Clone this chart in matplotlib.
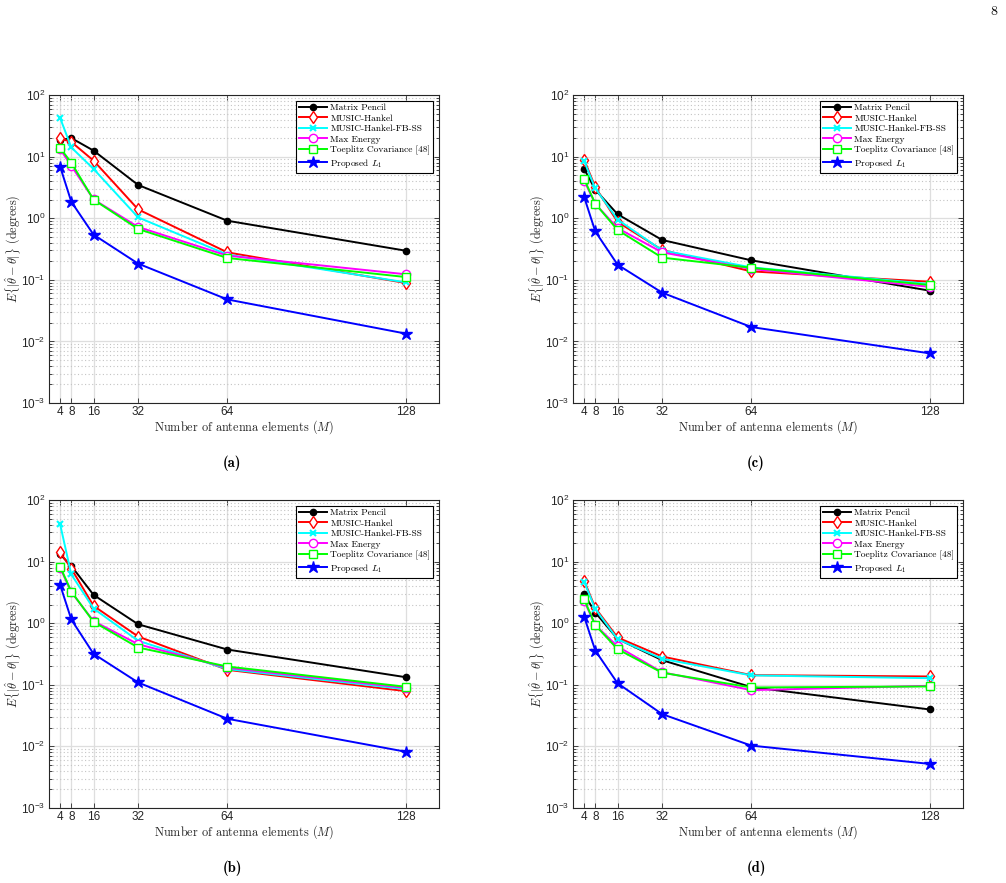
import numpy as np
import matplotlib
matplotlib.use("Agg")
from matplotlib import pyplot as plt
from matplotlib.font_manager import FontProperties
from matplotlib.ticker import LogLocator, NullFormatter

plt.rcParams['mathtext.fontset'] = 'custom'
plt.rcParams['mathtext.rm'] = 'Liberation Sans'
plt.rcParams['mathtext.it'] = 'Liberation Sans:italic'
plt.rcParams['font.family'] = 'Liberation Sans'

M = [4, 8, 16, 32, 64, 128]
labels = ["Matrix Pencil", "MUSIC-Hankel", "MUSIC-Hankel-FB-SS", "Max Energy",
          "Toeplitz Covariance [48]", r"Proposed $L_1$"]

# panel (a)
mp_a = [18.5, 20, 12.5, 3.46, 0.91, 0.297]
mh_a = [19.7, 17.3, 8.6, 1.39, 0.279, 0.0887]
fb_a = [42.3, 14.1, 6.3, 1.03, 0.257, 0.091]
me_a = [13.2, 7.1, 2.02, 0.72, 0.247, 0.123]
tc_a = [13.8, 7.97, 2.0, 0.668, 0.226, 0.111]
l1_a = [6.87, 1.85, 0.54, 0.183, 0.048, 0.0134]

# panel (b)
mp_b = [13.1, 8.5, 2.88, 0.96, 0.374, 0.133]
mh_b = [14.2, 7.7, 1.91, 0.608, 0.175, 0.079]
fb_b = [40.3, 6.2, 1.73, 0.518, 0.18, 0.085]
me_b = [7.9, 3.2, 1.08, 0.456, 0.189, 0.089]
tc_b = [8.3, 3.26, 1.05, 0.403, 0.198, 0.093]
l1_b = [4.19, 1.15, 0.318, 0.109, 0.0281, 0.0082]

# panel (c)
mp_c = [6.3, 2.9, 1.16, 0.443, 0.207, 0.0667]
mh_c = [8.9, 3.2, 0.87, 0.305, 0.137, 0.093]
fb_c = [8.4, 3.05, 0.95, 0.30, 0.159, 0.0855]
me_c = [4.07, 1.71, 0.69, 0.279, 0.15, 0.077]
tc_c = [4.33, 1.72, 0.643, 0.229, 0.157, 0.0824]
l1_c = [2.21, 0.61, 0.176, 0.0618, 0.0171, 0.0064]

# panel (d)
mp_d = [2.95, 1.49, 0.557, 0.251, 0.0917, 0.0398]
mh_d = [4.92, 1.77, 0.586, 0.288, 0.1435, 0.1365]
fb_d = [4.7, 1.7, 0.55, 0.264, 0.142, 0.128]
me_d = [2.3, 0.933, 0.419, 0.16, 0.082, 0.0964]
tc_d = [2.45, 0.93, 0.379, 0.157, 0.0905, 0.094]
l1_d = [1.28, 0.36, 0.106, 0.0334, 0.0103, 0.0052]

styles = [
    dict(color='k', marker='o', ms=4.5, mfc='k'),
    dict(color='#ff0000', marker='d', ms=6.5, mfc='white'),
    dict(color='#00ffff', marker='x', ms=4.5, mew=1.5),
    dict(color='#ff00ff', marker='o', ms=6, mfc='white'),
    dict(color='#00ff00', marker='s', ms=6, mfc='white'),
    dict(color='#0000ff', marker='*', ms=9, mfc='#0000ff'),
]

panels = [
    ([mp_a, mh_a, fb_a, me_a, tc_a, l1_a], "(a)", 49, 95, 232),
    ([mp_c, mh_c, fb_c, me_c, tc_c, l1_c], "(c)", 573, 95, 756),
    ([mp_b, mh_b, fb_b, me_b, tc_b, l1_b], "(b)", 49, 500, 232),
    ([mp_d, mh_d, fb_d, me_d, tc_d, l1_d], "(d)", 573, 500, 756),
]

W, H = 1006, 883
fig = plt.figure(figsize=(W / 100, H / 100), dpi=100)
cm_font = dict(fontfamily='cmr10', math_fontfamily='cm')
axcol = '#262626'

for series, cap, left, top, capx in panels:
    ax = fig.add_axes([left / W, 1 - (top + 308) / H, 390 / W, 308 / H])
    for vals, lab, st in zip(series, labels, styles):
        ax.plot(M, vals, lw=1.4, label=lab, mec=st['color'], **st)
    ax.set_yscale('log')
    ax.set_xlim(0, 140)
    ax.set_ylim(1e-3, 1e2)
    ax.set_xticks(M)
    ax.yaxis.set_minor_locator(LogLocator(base=10, subs=np.arange(2, 10)))
    ax.yaxis.set_minor_formatter(NullFormatter())
    ax.grid(which='major', color='#dedede', lw=0.9, ls='-')
    ax.grid(which='minor', axis='y', color='#c4c4c4', lw=0.8, ls=(0, (1, 2.2)))
    ax.set_axisbelow(True)
    ax.tick_params(which='both', direction='in', top=True, right=True,
                   colors=axcol, labelsize=8.5, width=0.6, pad=2.5)
    ax.tick_params(which='major', length=3.5)
    ax.tick_params(which='minor', length=2)
    for sp in ax.spines.values():
        sp.set_color(axcol)
        sp.set_linewidth(0.8)
    ax.set_xlabel(r"Number of antenna elements ($M$)", fontsize=8.8, color=axcol,
                  va='center', **cm_font)
    ax.xaxis.set_label_coords(0.5, -24 / 308)
    ax.set_ylabel(r"$E\{|\hat{\theta}-\theta|\}$ (degrees)", fontsize=8.8, color=axcol,
                  va='center', **cm_font)
    ax.yaxis.set_label_coords(-36 / 390, 0.5)
    leg = ax.legend(loc='upper right', prop=FontProperties(family='cmr10', size=6.8,
                    math_fontfamily='cm'),
                    fancybox=False, framealpha=1, edgecolor='k', borderaxespad=0.6,
                    handlelength=2.9, labelspacing=0.2, borderpad=0.3,
                    handletextpad=0.4)
    leg.get_frame().set_linewidth(0.8)
    fig.text(capx / W, 1 - (top + 368) / H, cap, ha='center', va='center',
             fontfamily='cmb10', fontsize=10.5)

fig.text(994 / W, 1 - 12 / H, "8", ha='center', va='center', fontfamily='cmr10',
         fontsize=10)

fig.savefig("out.png", dpi=100)
